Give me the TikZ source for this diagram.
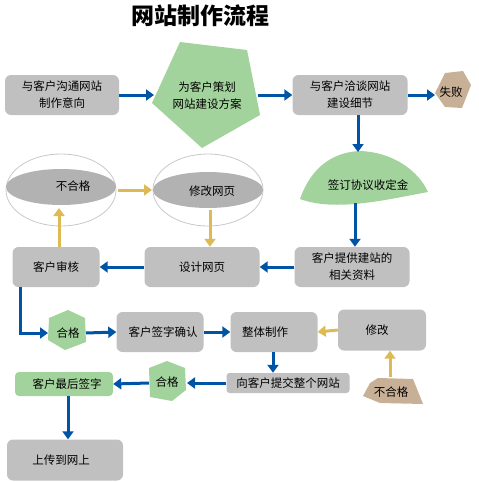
\documentclass[tikz,border=0pt]{standalone}
\usepackage{fontspec}
\newfontfamily\cjk{Noto Sans CJK SC}
\usetikzlibrary{arrows.meta}
\definecolor{boxgray}{RGB}{192,192,192}
\definecolor{ellgray}{RGB}{178,178,178}
\definecolor{ellline}{RGB}{200,200,200}
\definecolor{mygreen}{RGB}{163,211,156}
\definecolor{mytan}{RGB}{199,176,150}
\definecolor{myblue}{RGB}{0,84,166}
\definecolor{myyellow}{RGB}{222,186,84}
\begin{document}
\begin{tikzpicture}[x=1pt,y=-1pt,
  font=\cjk\fontsize{11.5}{17}\selectfont,
  box/.style={fill=boxgray, rounded corners=6pt, inner sep=0pt, align=center},
  gbox/.style={fill=mygreen, rounded corners=4pt, inner sep=0pt, align=center},
  txt/.style={inner sep=0pt, align=center},
  barrow/.style={draw=myblue, line width=3pt, -{Triangle[width=11pt,length=8pt]}},
  yarrow/.style={draw=myyellow, line width=3pt, -{Triangle[width=11pt,length=8pt]}}]
\useasboundingbox (0,0) rectangle (479,482);
% title
\node[txt, font=\cjk\bfseries\fontsize{23}{26}\selectfont] (title) at (200,16) {网站制作流程};
% row 1
\node[box, minimum width=114pt, minimum height=40pt] (b1) at (62,95) {与客户沟通网站\\制作意向};
\fill[mygreen] (180,42) -- (247,50) -- (260,115) -- (202,148) -- (152,103) -- cycle;
\node[txt] (pent) at (207,96) {为客户策划\\网站建设方案};
\coordinate (pentL) at (154,95);
\coordinate (pentR) at (258,95);
\node[box, minimum width=115pt, minimum height=40pt] (b3) at (350,95) {与客户洽谈网站\\建设细节};
\fill[mytan] (435,93) -- (445,73) -- (463,71) -- (471,85) -- (462,108) -- (445,107) -- cycle;
\node[txt] (fail) at (451,92) {失败};
\coordinate (failL) at (435,95);
% green lens
\fill[mygreen] (300,199) .. controls (312,165) and (335,152) .. (360,151)
  .. controls (392,152) and (418,170) .. (428,192)
  .. controls (385,200) and (335,212) .. (300,199) -- cycle;
\node[txt] (sign) at (368,185) {签订协议收定金};
\coordinate (signT) at (358,152);
\coordinate (signB) at (355,203);
% row 2
\node[box, minimum width=115pt, minimum height=40pt] (b4) at (352,267) {客户提供建站的\\相关资料};
\node[box, minimum width=115pt, minimum height=40pt] (b5) at (202,267) {设计网页};
\node[box, minimum width=87pt, minimum height=40pt] (b6) at (56,267) {客户审核};
% ellipses
\draw[ellline, line width=0.8pt] (61,190) ellipse [x radius=55, y radius=36];
\fill[ellgray] (61,187) ellipse [x radius=55, y radius=18];
\node[txt] (bhg) at (73,186) {不合格};
\draw[ellline, line width=0.8pt] (208,190) ellipse [x radius=55, y radius=36];
\fill[ellgray] (208,190) ellipse [x radius=55, y radius=18];
\node[txt] (xgwy) at (212,191) {修改网页};
\coordinate (e1R) at (118,190);
\coordinate (e2L) at (152,190);
\coordinate (e1B) at (59,208);
\coordinate (e2B) at (210,210);
% row 3
\fill[mygreen] (68,310) -- (85,318) -- (86,342) -- (65,350) -- (48,340) -- (49,318) -- cycle;
\node[txt] (hg1) at (68,333) {合格};
\coordinate (hg1L) at (48,333);
\coordinate (hg1R) at (86,333);
\coordinate (turn) at (20,333);
\node[box, minimum width=87pt, minimum height=40pt] (b7) at (160,332) {\hspace*{6pt}客户签字确认};
\node[box, minimum width=87pt, minimum height=40pt] (b8) at (274,332) {整体制作\hspace*{18pt}};
\node[box, minimum width=88pt, minimum height=41pt] (b9) at (382,330) {修改\hspace*{10pt}};
\fill[mytan] (363,396) -- (370,383) -- (378,378) -- (413,379) -- (423,404) -- (380,403) -- cycle;
\node[txt] (bhg2) at (391,392) {不合格};
\coordinate (bhg2T) at (390,377);
% row 4
\node[box, rounded corners=3pt, minimum width=123pt, minimum height=20pt] (b10) at (288,383) {向客户提交整个网站};
\fill[mygreen] (167,361) -- (185,368) -- (186,390) -- (172,401) -- (150,397) -- (149,368) -- cycle;
\node[txt] (hg2) at (167,382) {合格};
\coordinate (hg2L) at (149,383);
\coordinate (hg2R) at (187,383);
\node[gbox, minimum width=98pt, minimum height=24pt] (b11) at (64,384) {\hspace*{6pt}客户最后签字};
\node[box, minimum width=116pt, minimum height=41pt] (b12) at (65,460) {上传到网上\hspace*{8pt}};
% connectors blue
\draw[barrow] (b1.east) -- (pentL);
\draw[barrow] (pentR) -- (b3.west);
\draw[barrow] (b3.east) -- (failL);
\draw[barrow] ([xshift=8pt]b3.south) -- (signT);
\draw[barrow] (signB) -- ([xshift=3pt]b4.north);
\draw[barrow] (b4.west) -- (b5.east);
\draw[barrow] (b5.west) -- (b6.east);
\draw[barrow] ([xshift=-36pt]b6.south) |- (hg1L);
\draw[barrow] (hg1R) -- (b7.west);
\draw[barrow] (b7.east) -- (b8.west);
\draw[barrow] ([xshift=-1pt]b8.south) -- ([xshift=-15pt]b10.north);
\draw[barrow] (b10.west) -- (hg2R);
\draw[barrow] (hg2L) -- (b11.east);
\draw[barrow] ([xshift=4pt]b11.south) -- ([xshift=3pt]b12.north);
% connectors yellow
\draw[yarrow] (e1R) -- (e2L);
\draw[yarrow] (e2B) -- ([xshift=8pt]b5.north);
\draw[yarrow] ([xshift=3pt]b6.north) -- (e1B);
\draw[yarrow] (b9.west) -- (b8.east);
\draw[yarrow] (bhg2T) -- ([xshift=8pt]b9.south);
\end{tikzpicture}
\end{document}
